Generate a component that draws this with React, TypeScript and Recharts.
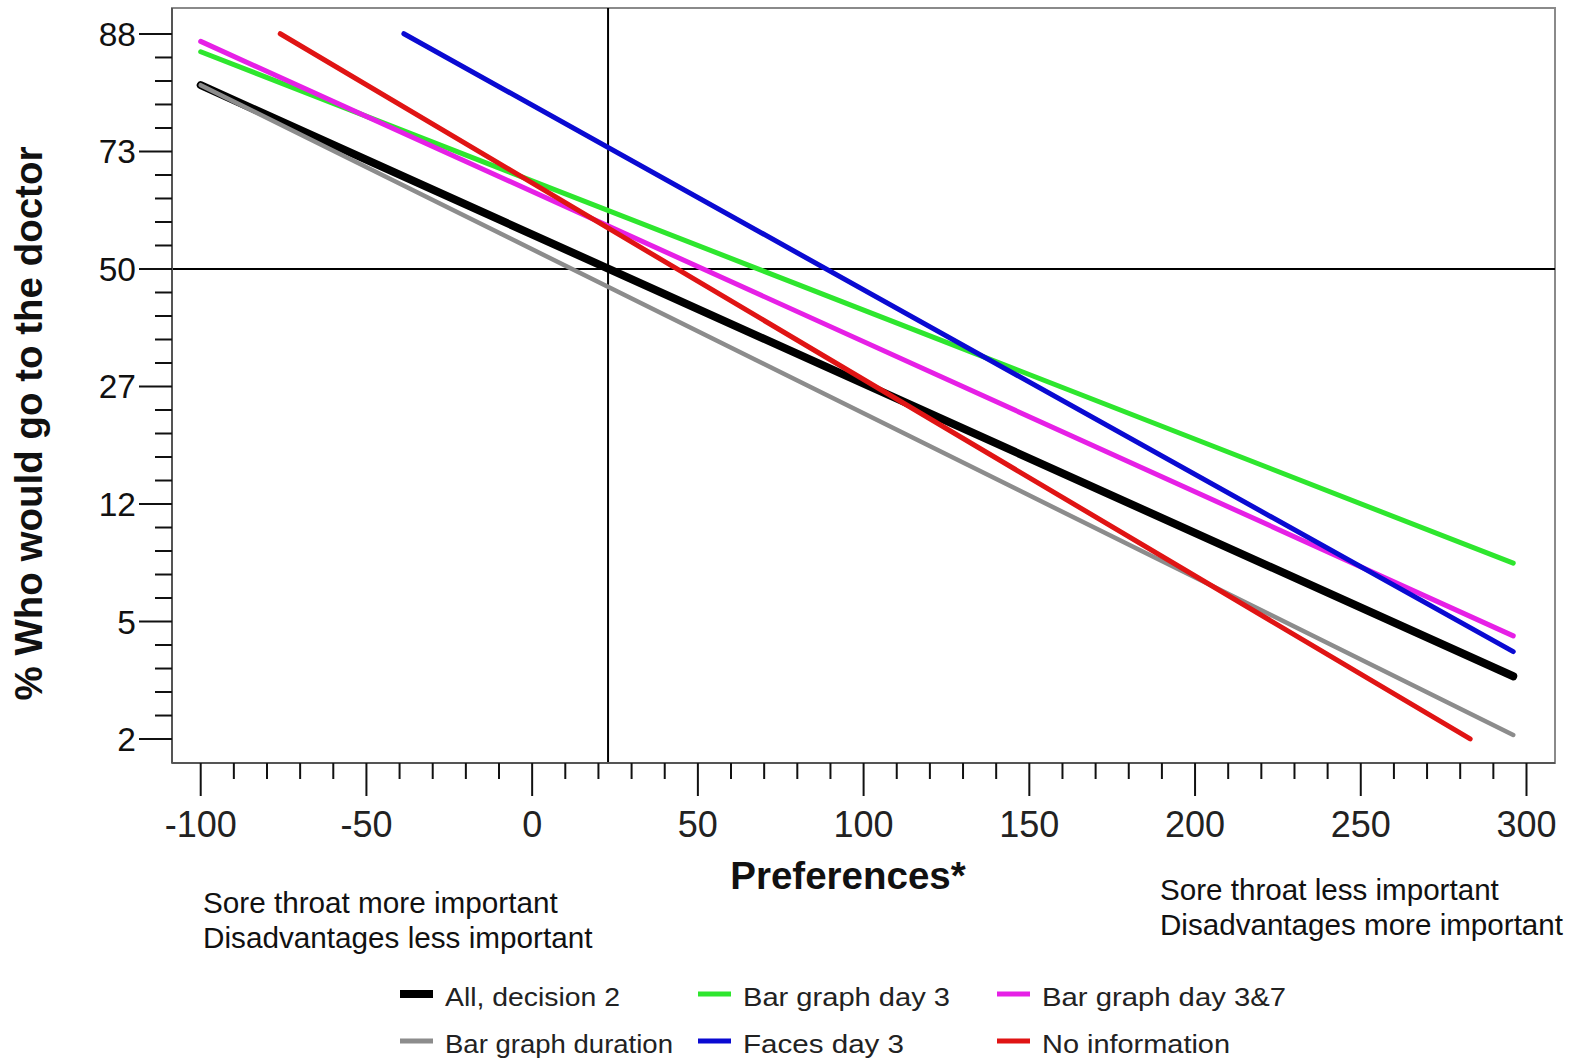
import React from 'react';
import { LineChart, Line, XAxis, YAxis, ReferenceLine, ReferenceArea } from 'recharts';

// ---- data (percent values at line endpoints, x in preference units) ----
const allDecision2X = [-100, 296];
const allDecision2Pct = [82.7, 3.03];
const barDay3X = [-100, 296];
const barDay3Pct = [86.4, 7.56];
const barDay37X = [-100, 296];
const barDay37Pct = [87.4, 4.22];
const barDurationX = [-100, 296];
const barDurationPct = [82.7, 1.86];
const facesDay3X = [-38.7, 296];
const facesDay3Pct = [88.1, 3.71];
const noInfoX = [-76, 283];
const noInfoPct = [88.1, 1.8];

const seriesNames = ['All, decision 2', 'Bar graph day 3', 'Bar graph day 3&7', 'Bar graph duration', 'Faces day 3', 'No information'];
const seriesColors = ['#000000', '#2ee62e', '#e620e6', '#8c8c8c', '#0a0ad2', '#e01414'];
const seriesWidths = [8, 5, 5, 4.5, 5, 5];

const xTickLabels = [-100, -50, 0, 50, 100, 150, 200, 250, 300];
const yTickLogits = [-4, -3, -2, -1, 0, 1, 2];
const yTickLabels = ['2', '5', '12', '27', '50', '73', '88'];

const refX = 22.9; // vertical reference line
const refYPct = 50; // horizontal reference line

const X_DOMAIN: [number, number] = [-108.66, 308.6];
const Y_DOMAIN: [number, number] = [-4.204, 2.221];

const logit = (p: number) => Math.log(p / (100 - p));

const build = (xs: number[], ps: number[]) => xs.map((x, i) => ({ x, v: logit(ps[i]) }));

const seriesData = [
  build(allDecision2X, allDecision2Pct),
  build(barDay3X, barDay3Pct),
  build(barDay37X, barDay37Pct),
  build(barDurationX, barDurationPct),
  build(facesDay3X, facesDay3Pct),
  build(noInfoX, noInfoPct),
];

const xTicks: number[] = [];
for (let i = 0; i <= 40; i++) xTicks.push(-100 + i * 10);
const yTicks: number[] = [];
for (let i = 0; i <= 30; i++) yTicks.push(-4 + i * 0.2);

const FONT = 'Arial, "Liberation Sans", Helvetica, sans-serif';

const XTick = (props: any) => {
  const { x, y, payload } = props;
  const val = Math.round(payload.value);
  const major = xTickLabels.includes(val);
  return (
    <g>
      <line x1={x} x2={x} y1={y} y2={y + (major ? 33 : 16)} stroke="#111" strokeWidth={2} />
      {major && (
        <text x={x} y={y + 74} textAnchor="middle" fontSize={36} fontFamily={FONT} fill="#222">
          {val}
        </text>
      )}
    </g>
  );
};

const YTick = (props: any) => {
  const { x, y, payload } = props;
  const v = payload.value;
  const idx = yTickLogits.findIndex((t) => Math.abs(t - v) < 1e-6);
  const major = idx >= 0;
  return (
    <g>
      <line x1={x - (major ? 33 : 17)} x2={x} y1={y} y2={y} stroke="#111" strokeWidth={2} />
      {major && (
        <text x={x - 36} y={y + 12} textAnchor="end" fontSize={33.5} fontFamily={FONT} fill="#111">
          {yTickLabels[idx]}
        </text>
      )}
    </g>
  );
};

// legend layout (positions only)
const legendCols = [400, 698, 997];
const legendRows = [994, 1041];
const legendTextWidths = [175, 207, 244, 228, 161, 188];
const legendSwatchH = [8, 5, 5, 5, 5, 5];

export default function App() {
  return (
    <div style={{ position: 'absolute', left: 0, top: 0, width: 1577, height: 1058, background: '#fff' }}>
      <LineChart width={1577} height={1058} margin={{ top: 8, right: 22, bottom: 0, left: 0 }}>
        <XAxis
          type="number"
          dataKey="x"
          domain={X_DOMAIN}
          ticks={xTicks}
          interval={0}
          allowDataOverflow
          height={295}
          tickSize={0}
          tickMargin={0}
          tickLine={false}
          axisLine={{ stroke: '#555', strokeWidth: 2 }}
          tick={<XTick />}
        />
        <YAxis
          type="number"
          dataKey="v"
          domain={Y_DOMAIN}
          ticks={yTicks}
          interval={0}
          allowDataOverflow
          width={172}
          tickSize={0}
          tickMargin={0}
          tickLine={false}
          axisLine={{ stroke: '#555', strokeWidth: 2 }}
          tick={<YTick />}
        />
        <ReferenceArea
          x1={X_DOMAIN[0]}
          x2={X_DOMAIN[1]}
          y1={Y_DOMAIN[0]}
          y2={Y_DOMAIN[1]}
          fill="none"
          stroke="#8a8a8a"
          strokeWidth={2}
          ifOverflow="visible"
        />
        <ReferenceLine x={refX} stroke="#000" strokeWidth={2} />
        <ReferenceLine y={logit(refYPct)} stroke="#000" strokeWidth={2} />
        {seriesData.map((d, i) => (
          <Line
            key={seriesNames[i]}
            data={d}
            dataKey="v"
            type="linear"
            stroke={seriesColors[i]}
            strokeWidth={seriesWidths[i]}
            strokeLinecap="round"
            dot={false}
            activeDot={false}
            isAnimationActive={false}
          />
        ))}
      </LineChart>
      <svg
        width={1577}
        height={1058}
        style={{ position: 'absolute', left: 0, top: 0, pointerEvents: 'none' }}
        fontFamily={FONT}
      >
        <text transform="translate(42,423.5) rotate(-90)" textAnchor="middle" fontSize={38.5} fontWeight="bold" fill="#111">
          % Who would go to the doctor
        </text>
        <text x={848} y={889} textAnchor="middle" fontSize={38.5} fontWeight="bold" fill="#111">
          Preferences*
        </text>
        <text x={203} y={913} fontSize={29.7} fill="#111">Sore throat more important</text>
        <text x={203} y={948} fontSize={29.7} fill="#111">Disadvantages less important</text>
        <text x={1160} y={900} fontSize={29.6} fill="#111">Sore throat less important</text>
        <text x={1160} y={935} fontSize={29.6} fill="#111">Disadvantages more important</text>
        {seriesNames.map((name, i) => {
          const col = i % 3;
          const row = Math.floor(i / 3);
          const sx = legendCols[col];
          const cy = legendRows[row];
          return (
            <g key={name}>
              <rect x={sx} y={cy - legendSwatchH[i] / 2} width={33} height={legendSwatchH[i]} fill={seriesColors[i]} />
              <text
                x={sx + 45}
                y={cy + 12}
                fontSize={25}
                fill="#222"
                textLength={legendTextWidths[i]}
                lengthAdjust="spacingAndGlyphs"
              >
                {name}
              </text>
            </g>
          );
        })}
      </svg>
    </div>
  );
}
